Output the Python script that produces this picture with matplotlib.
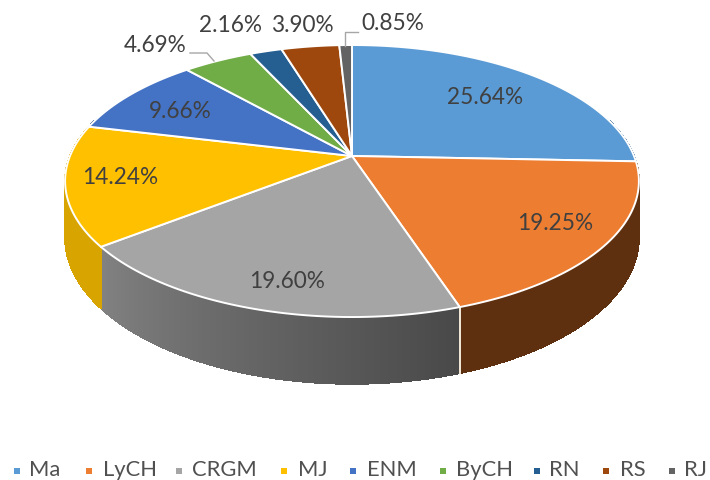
import numpy as np
import matplotlib
matplotlib.use("Agg")
import matplotlib.pyplot as plt
from matplotlib.colors import to_rgb

names = ["Ma", "LyCH", "CRGM", "MJ", "ENM", "ByCH", "RN", "RS", "RJ"]
shares = [25.64, 19.25, 19.60, 14.24, 9.66, 4.69, 2.16, 3.90, 0.85]
colors = ["#5b9bd5", "#ed7d31", "#a5a5a5", "#ffc000", "#4472c4", "#70ad47", "#255e91", "#9e480e", "#636363"]
side_colors = ["#2f5f8f", "#5f3010", "#6e6e6e", "#d8a400", "#2f4f8a", "#4a7530", "#1a3f62", "#6a300a", "#444444"]

label_xy = [(485, 98), (555, 224), (287, 281), (120, 177), (180, 111), (155, 46), (230, 25), (302, 25), (393, 24)]
legend_marker_x = [17, 89, 179, 284, 353, 443, 537, 606, 672]
legend_text_x = [29, 103, 192, 298, 367, 456, 549, 620, 684]

plt.rcParams["font.family"] = ["Lato", "DejaVu Sans"]
fig = plt.figure(figsize=(7.10, 4.80), dpi=100)
ax = fig.add_axes([0, 0, 1, 1])
ax.set_xlim(0, 710)
ax.set_ylim(480, 0)
ax.axis("off")

CX, CY, R, S, K, D = 352, 156, 282, 131.4, 0.184, 54.5

def project(theta):
    u, v = np.sin(theta), np.cos(theta)
    w = 1 + K * v
    return CX + u * R / w, CY - v * S / w, D / w

edges = np.concatenate([[0], np.cumsum(shares)]) / np.sum(shares) * 2 * np.pi

# sides (only the front half can be seen)
for i in range(len(shares)):
    a, b = edges[i], edges[i + 1]
    n = max(3, int((b - a) * 120))
    ts = np.linspace(a, b, n + 1)
    base = np.array(to_rgb(side_colors[i]))
    for j in range(n):
        t0, t1 = ts[j], ts[j + 1]
        if np.cos((t0 + t1) / 2) > 0.3:
            continue
        x0, y0, d0 = project(t0)
        x1, y1, d1 = project(t1)
        f = 1.0
        if names[i] == "CRGM":
            f = 0.66 + 0.52 * (t0 - a) / (b - a)
        c = np.clip(base * f, 0, 1)
        ax.fill([x0, x1, x1, x0], [y0, y1, y1 + d1, y0 + d0], facecolor=c, edgecolor=c,
                lw=0.6, antialiased=False, zorder=1)
    if names[i] == "LyCH":
        x, y, d = project(b)
        ax.plot([x, x], [y, y + d], color="#f3ead8", lw=1.4, zorder=2)

# top face
for i in range(len(shares)):
    ts = np.linspace(edges[i], edges[i + 1], 80)
    xs, ys, _ = project(ts)
    ax.fill(np.r_[CX, xs], np.r_[CY, ys], facecolor=colors[i], edgecolor="white", lw=1.4,
            joinstyle="round", zorder=3)

# data labels
for i, (x, y) in enumerate(label_xy):
    ax.text(x, y, f"{shares[i]:.2f}%", ha="center", va="center", fontsize=16.3, color="#404040", zorder=5)

# leader lines
ax.plot([190, 207, 214], [53, 53, 61], color="#a6a6a6", lw=1, zorder=4)
ax.plot([358, 345, 345], [32, 32, 46], color="#a6a6a6", lw=1, zorder=4)

# legend
for i in range(len(names)):
    ax.plot(legend_marker_x[i], 471, marker="s", ms=4.6, mew=0, color=colors[i], zorder=5)
    ax.text(legend_text_x[i], 470, names[i], ha="left", va="center", fontsize=15.8, color="#505050", zorder=5)

fig.savefig("out.png", dpi=100)
